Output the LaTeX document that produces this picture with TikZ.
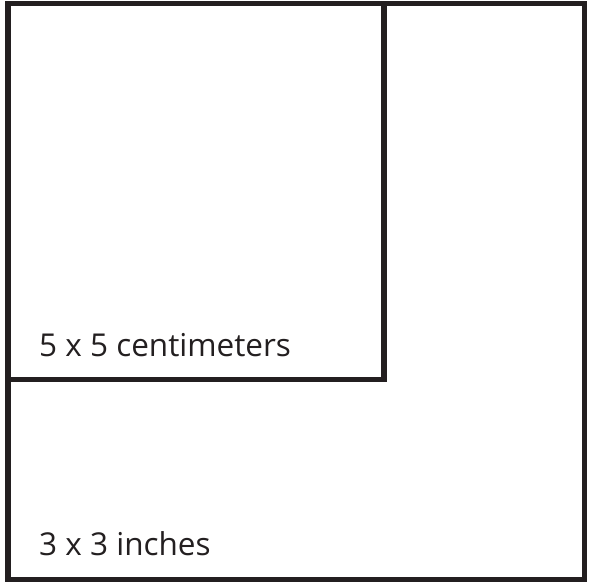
\documentclass[tikz,border=0pt]{standalone}
\usepackage{fontspec}
\setmainfont{Open Sans}
\definecolor{ink}{HTML}{231F20}
\begin{document}
\begin{tikzpicture}[x=1pt,y=-1pt,
  frame/.style={draw=ink,line width=5.5pt},
  lbl/.style={anchor=base west,inner sep=0pt,text=ink,font=\fontsize{31.5}{37}\selectfont}]
\useasboundingbox (0,0) rectangle (591,586);
\coordinate (o1) at (8,3.5);
\coordinate (o2) at (584.5,579.5);
\coordinate (i2) at (384,379.5);
\draw[frame] (o1) rectangle (o2);
\draw[frame] (o1) rectangle (i2);
\node[lbl] (cm) at (39,356) {5 x 5 centimeters};
\node[lbl] (in) at (39,555) {3 x 3 inches};
\end{tikzpicture}
\end{document}
